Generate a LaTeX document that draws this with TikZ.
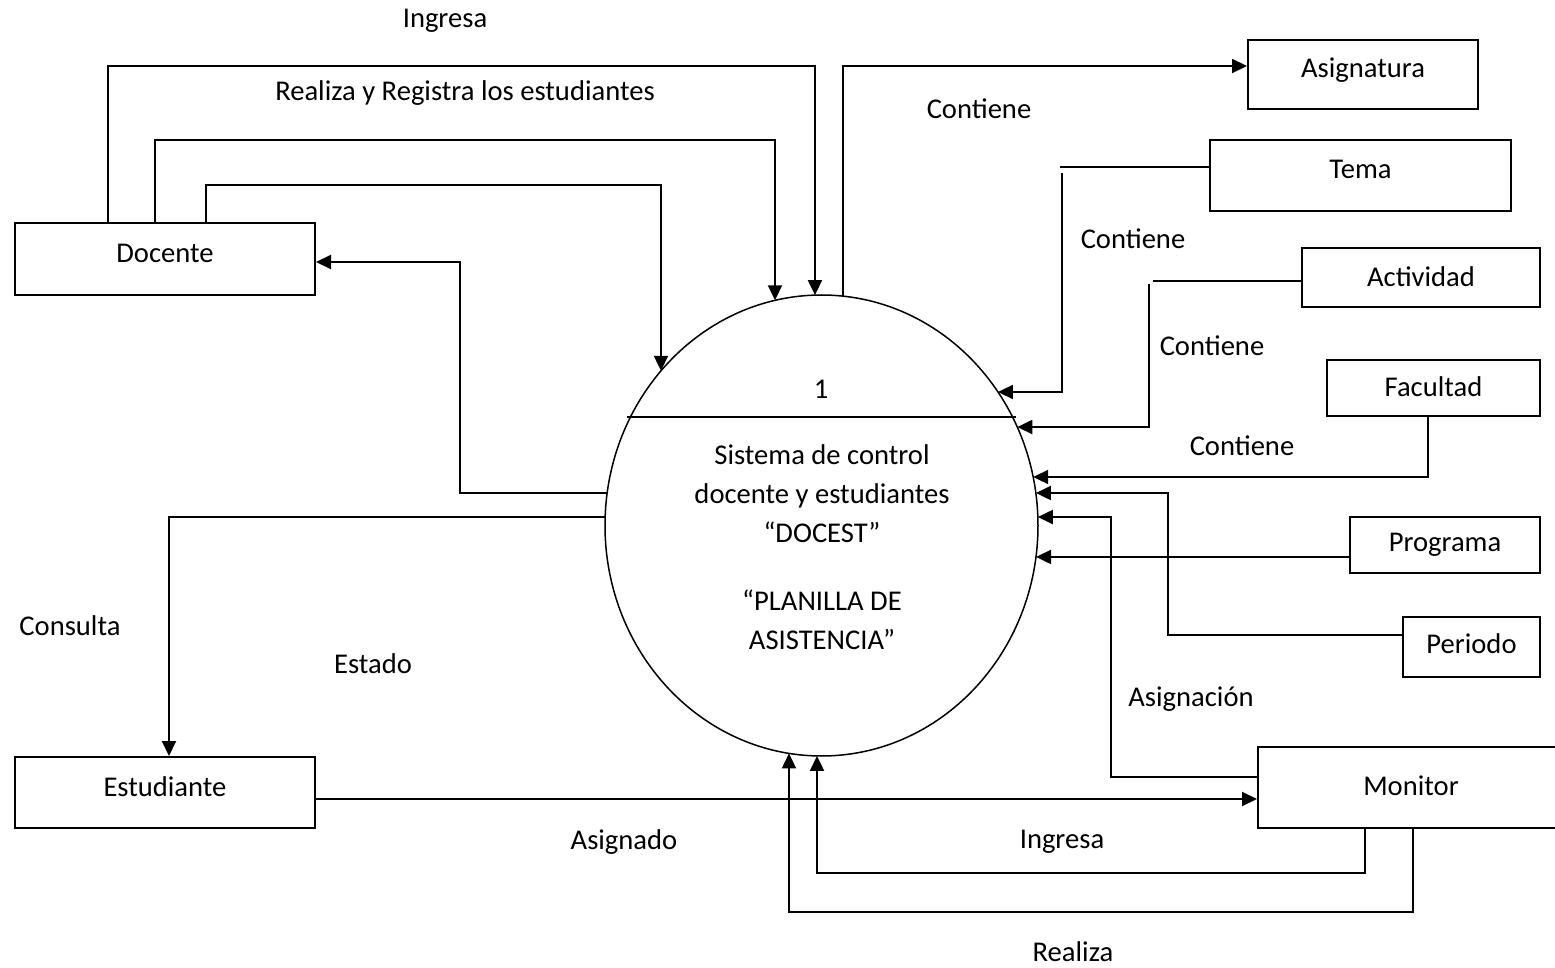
\documentclass[tikz,border=0pt]{standalone}
\usepackage{fontspec}
\setmainfont{Carlito}
\usetikzlibrary{arrows.meta,intersections,shapes.geometric}
% point where the segment #2--#3 meets the process oval, stored as #1
\newcommand\ovalhit[3]{%
  \path[name path=probe] #2 -- #3;
  \path[name intersections={of=oval and probe, by={#1}}];}
\begin{document}
\begin{tikzpicture}[x=0.5pt,y=-0.5pt,
  font=\fontsize{14.3}{19.5}\selectfont,
  line width=1pt,
  flow/.style={-{Triangle[length=7.5pt,width=7pt]}},
  entity/.style={draw, rectangle, inner sep=0pt},
  tag/.style={inner sep=0pt}]
\clip (0,0) rectangle (1555,968);
\fill[white] (0,0) rectangle (1555,968);

% ---- process ----
\node[ellipse, minimum width=216.5pt, minimum height=230.5pt, inner sep=0pt] (sys) at (821.5,525.5) {};
\draw[line width=0.75pt, name path=oval] (sys.center) ellipse [x radius=108.25pt, y radius=115.25pt];
\ovalhit{d1}{(590,417)}{(821,417)}
\ovalhit{d2}{(821,417)}{(1050,417)}
\draw[line width=0.75pt, shorten <=-1.5pt, shorten >=-1.5pt] (d1) -- (d2);
\node[tag] (sysnum) at (821,389) {1};
\node[tag, align=center] (sysname) at (822,494) {Sistema de control\\docente y estudiantes\\“DOCEST”};
\node[tag, align=center] (sysdoc) at (822,620) {“PLANILLA DE\\ASISTENCIA”};

% ---- external entities ----
\node[entity, minimum width=150pt, minimum height=36pt, label={[tag,yshift=3pt]center:Docente}] (doc) at (165,259) {};
\node[entity, minimum width=150pt, minimum height=35.5pt, label={[tag,yshift=3pt]center:Estudiante}] (est) at (165,792.5) {};
\node[entity, minimum width=153pt, minimum height=40.5pt, label={[tag,yshift=1pt]center:Monitor}] (mon) at (1411,787.5) {};
\node[entity, minimum width=115pt, minimum height=34.5pt, label={[tag,yshift=2pt]center:Asignatura}] (asig) at (1363,74.5) {};
\node[entity, minimum width=150.5pt, minimum height=35.5pt, label={[tag,yshift=3pt]center:Tema}] (tema) at (1360.5,175.5) {};
\node[entity, minimum width=119pt, minimum height=29.5pt, label={[tag,yshift=0.5pt]center:Actividad}] (act) at (1421,277.5) {};
\node[entity, minimum width=106.5pt, minimum height=28pt, label={[tag,yshift=0.5pt]center:Facultad}] (fac) at (1433.5,388) {};
\node[entity, minimum width=95pt, minimum height=28pt, label={[tag,yshift=0pt]center:Programa}] (prog) at (1445,545) {};
\node[entity, minimum width=68.5pt, minimum height=30pt, label={[tag,yshift=1.5pt]center:Periodo}] (per) at (1471.5,647) {};

% ---- contact points on the oval ----
\ovalhit{e1}{(815,40)}{(815,500)}
\ovalhit{e2}{(775,40)}{(775,500)}
\ovalhit{e3}{(661,40)}{(661,500)}
\ovalhit{e4}{(560,493)}{(821,493)}
\ovalhit{e5}{(560,517)}{(821,517)}
\ovalhit{e7}{(843,40)}{(843,500)}
\ovalhit{e8}{(821,392)}{(1100,392)}
\ovalhit{e9}{(821,427)}{(1100,427)}
\ovalhit{e10}{(821,477)}{(1100,477)}
\ovalhit{e11}{(821,493)}{(1100,493)}
\ovalhit{e12}{(821,557)}{(1100,557)}
\ovalhit{e13}{(821,517)}{(1100,517)}
\ovalhit{e14}{(817,540)}{(817,940)}
\ovalhit{e15}{(789,540)}{(789,940)}

% broken corners of the Tema and Actividad flows
\coordinate (temaend) at (1060,167);
\coordinate (temadrop) at (1062,173);
\coordinate (actend) at (1153,281);
\coordinate (actdrop) at (1149,284);

% ---- flows ----
\draw[flow] (doc.north -| 108,0) |- (e1 |- 0,66) -- (e1);
\draw[flow] (doc.north -| 155,0) |- (e2 |- 0,140) -- (e2);
\draw[flow] (doc.north -| 206,0) |- (e3 |- 0,185) -- (e3);
\draw[flow] (e4) -- (460,0 |- e4) |- (doc.east |- 0,262);
\draw[flow] (e5) -| (est.north -| 169,0);
\draw[flow] (est.east |- 0,799) -- (mon.west |- 0,799);
\draw[flow] (e7) |- (asig.west |- 0,66);
\draw (tema.west |- temaend) -- (temaend);
\draw[flow] (temadrop) |- (e8);
\draw (act.west |- actend) -- (actend);
\draw[flow] (actdrop) |- (e9);
\draw[flow] (fac.south -| 1428,0) |- (e10);
\draw[flow] (per.west |- 0,635) -| (1168,0 |- e11) -- (e11);
\draw[flow] (prog.west |- e12) -- (e12);
\draw[flow] (mon.west |- 0,777) -| (1111,0 |- e13) -- (e13);
\draw[flow] (mon.south -| 1365,0) |- (e14 |- 0,873) -- (e14);
\draw[flow] (mon.south -| 1413,0) |- (e15 |- 0,912) -- (e15);

% ---- flow labels ----
\node[tag] (l1) at (445,21) {Ingresa};
\node[tag] (l2) at (465,93) {Realiza y Registra los estudiantes};
\node[tag] (l3) at (979,109) {Contiene};
\node[tag] (l4) at (1133,239) {Contiene};
\node[tag] (l5) at (1212,346) {Contiene};
\node[tag] (l6) at (1242,446) {Contiene};
\node[tag] (l7) at (70,626) {Consulta};
\node[tag] (l8) at (373,664) {Estado};
\node[tag] (l9) at (1191,699) {Asignación};
\node[tag] (l10) at (624,842) {Asignado};
\node[tag] (l11) at (1062,842) {Ingresa};
\node[tag] (l12) at (1073,952) {Realiza};
\end{tikzpicture}
\end{document}
